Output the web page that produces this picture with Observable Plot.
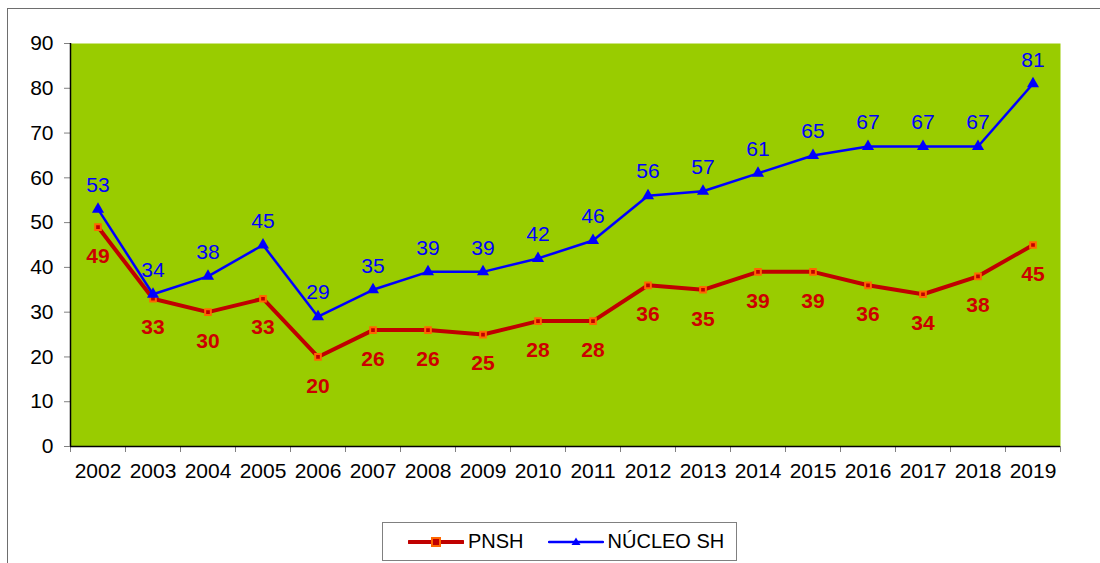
<!DOCTYPE html>
<html>
<head>
<meta charset="utf-8">
<script src="https://cdn.jsdelivr.net/npm/d3@7"></script>
<script src="https://cdn.jsdelivr.net/npm/@observablehq/plot@0.6"></script>
<style>
  html, body { margin: 0; padding: 0; background: #fff; }
  #wrap { position: relative; width: 1100px; height: 563px; overflow: hidden; font-family: "Liberation Sans", Arial, sans-serif; }
  #border { position: absolute; left: 7px; top: 8px; right: -10px; bottom: -10px; border-left: 1.5px solid #6e6e6e; border-top: 1.5px solid #6e6e6e; pointer-events: none; }
  #legend { position: absolute; left: 382px; top: 522px; width: 353px; height: 37px; border: 1.5px solid #808080; background: #fff; display: flex; align-items: center; font-size: 20px; color: #000; }
  #legend .item { display: flex; align-items: center; }
  #legend svg { display: block; }
</style>
</head>
<body>
<div id="wrap">
  <div id="chart"></div>
  <div id="border"></div>
  <div id="legend"></div>
</div>
<script>
const years = [2002, 2003, 2004, 2005, 2006, 2007, 2008, 2009, 2010, 2011, 2012, 2013, 2014, 2015, 2016, 2017, 2018, 2019];
const pnsh = [49, 33, 30, 33, 20, 26, 26, 25, 28, 28, 36, 35, 39, 39, 36, 34, 38, 45];
const nucleo = [53, 34, 38, 45, 29, 35, 39, 39, 42, 46, 56, 57, 61, 65, 67, 67, 67, 81];
const yTicks = [0, 10, 20, 30, 40, 50, 60, 70, 80, 90];
const seriesNames = ["PNSH", "NÚCLEO SH"];

const redLine = "#C00000";
const redLabel = "#CC0000";
const orange = "#FF6600";
const blue = "#0000FF";
const green = "#99CC00";

const dataP = years.map((yr, i) => ({year: yr, value: pnsh[i]}));
const dataN = years.map((yr, i) => ({year: yr, value: nucleo[i]}));
const bounds = years.map(y => y - 0.5).concat([years[years.length - 1] + 0.5]);

const chart = Plot.plot({
  width: 1100,
  height: 500,
  marginLeft: 70,
  marginRight: 40,
  marginTop: 43,
  marginBottom: 54,
  style: {fontFamily: "Liberation Sans, Arial, sans-serif", fontSize: "21px", background: "transparent", overflow: "visible"},
  x: {type: "linear", domain: [years[0] - 0.5, years[years.length - 1] + 0.5]},
  y: {domain: [0, 90]},
  marks: [
    Plot.frame({fill: green, stroke: null}),
    Plot.axisY({ticks: yTicks, tickSize: 6, tickPadding: 11, stroke: "#808080", fill: "#000", label: null, fontSize: 21}),
    Plot.axisX({ticks: bounds, tickSize: 6, tickFormat: () => "", stroke: "#808080", label: null}),
    Plot.axisX({ticks: years, tickSize: 0, tickPadding: 17, tickFormat: d => String(d), fill: "#000", label: null, fontSize: 21}),
    Plot.ruleX([years[0] - 0.5], {stroke: "#000", strokeWidth: 1.5}),
    Plot.ruleY([0], {stroke: "#000", strokeWidth: 1.5}),
    Plot.line(dataP, {x: "year", y: "value", stroke: redLine, strokeWidth: 4}),
    Plot.dot(dataP, {x: "year", y: "value", symbol: "square", r: 3.2, fill: redLine, stroke: orange, strokeWidth: 2}),
    Plot.line(dataN, {x: "year", y: "value", stroke: blue, strokeWidth: 2.5}),
    Plot.dot(dataN, {x: "year", y: "value", symbol: "triangle", r: 4.5, fill: blue, stroke: null}),
    Plot.text(dataP, {x: "year", y: "value", text: d => String(d.value), dy: 29, fill: redLabel, fontWeight: "bold", fontSize: 21}),
    Plot.text(dataN, {x: "year", y: "value", text: d => String(d.value), dy: -24, fill: blue, fontSize: 21})
  ]
});
document.getElementById("chart").appendChild(chart);

// Legend
const legend = document.getElementById("legend");
function legendItem(name, color, width, symbol, marginLeft) {
  const item = document.createElement("div");
  item.className = "item";
  item.style.marginLeft = marginLeft + "px";
  const svg = d3.create("svg").attr("width", 56).attr("height", 14);
  svg.append("line").attr("x1", 1).attr("x2", 55).attr("y1", 7).attr("y2", 7)
    .attr("stroke", color).attr("stroke-width", width).attr("stroke-linecap", "round");
  if (symbol === "square") {
    svg.append("rect").attr("x", 24).attr("y", 3).attr("width", 8).attr("height", 8)
      .attr("fill", redLine).attr("stroke", orange).attr("stroke-width", 2);
  } else {
    svg.append("path").attr("d", "M28,2.5 L32.5,10 L23.5,10 Z").attr("fill", blue);
  }
  item.appendChild(svg.node());
  const label = document.createElement("span");
  label.textContent = name;
  label.style.marginLeft = "4px";
  item.appendChild(label);
  legend.appendChild(item);
}
legendItem(seriesNames[0], redLine, 4, "square", 25);
legendItem(seriesNames[1], blue, 2.5, "triangle", 24);
</script>
</body>
</html>
